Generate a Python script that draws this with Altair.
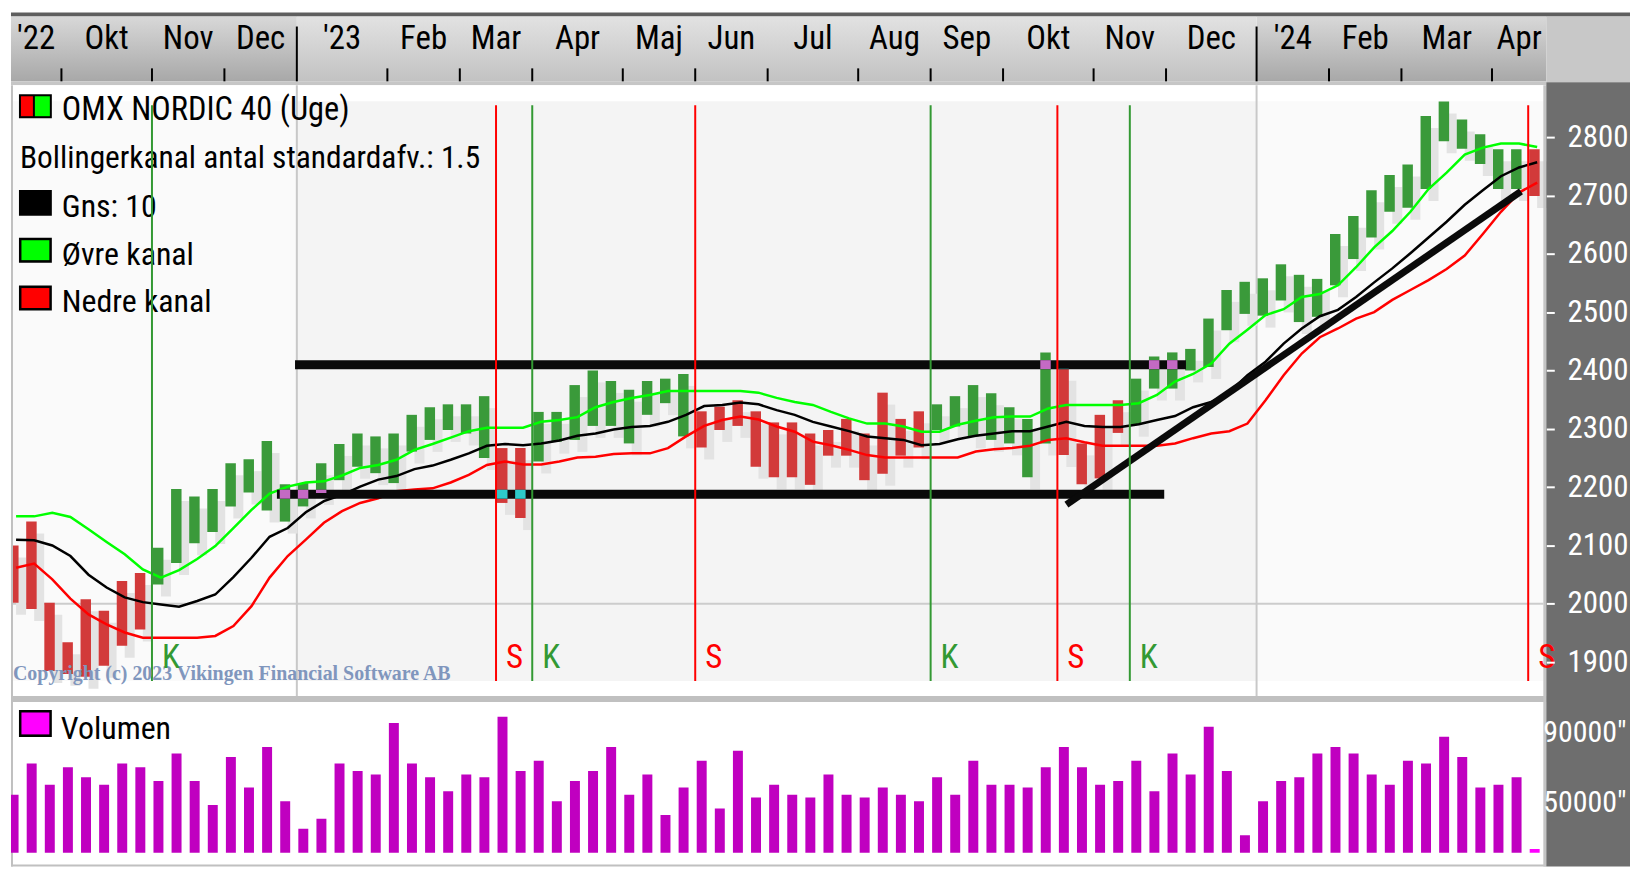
import altair as alt
import pandas as pd
from datetime import date, timedelta

FONT = "Roboto Condensed, Liberation Sans, sans-serif"
SERIF = "Liberation Serif, DejaVu Serif, serif"
FS = 33

# ---------------- data ----------------
first_week = date(2022, 9, 11)
weeks = [(first_week + timedelta(days=7 * i)).isoformat() for i in range(85)]

high = [2100, 2141, 2002, 1934, 2008, 1988, 2039, 2053, 2096, 2197,
        2184, 2197, 2241, 2248, 2279, 2205, 2207, 2241, 2274, 2292,
        2287, 2292, 2324, 2337, 2342, 2342, 2356, 2267, 2267, 2329,
        2329, 2375, 2400, 2382, 2367, 2382, 2386, 2394, 2330, 2338,
        2349, 2330, 2311, 2311, 2292, 2298, 2317, 2292, 2362, 2317,
        2330, 2342, 2356, 2375, 2361, 2337, 2317, 2431, 2403, 2275,
        2324, 2349, 2386, 2424, 2431, 2437, 2489, 2538, 2552, 2558,
        2582, 2564, 2557, 2634, 2665, 2709, 2735, 2753, 2836, 2861,
        2830, 2805, 2779, 2779, 2779]
low = [2002, 1991, 1885, 1880, 1875, 1894, 1928, 1956, 2033, 2070,
       2104, 2123, 2167, 2191, 2160, 2141, 2167, 2190, 2212, 2235,
       2224, 2207, 2261, 2281, 2298, 2292, 2250, 2173, 2147, 2244,
       2278, 2281, 2305, 2305, 2275, 2324, 2344, 2287, 2268, 2298,
       2305, 2235, 2217, 2217, 2204, 2254, 2254, 2212, 2223, 2254,
       2268, 2298, 2304, 2287, 2281, 2275, 2217, 2275, 2255, 2205,
       2215, 2293, 2307, 2369, 2369, 2400, 2406, 2469, 2497, 2494,
       2520, 2483, 2492, 2546, 2591, 2628, 2672, 2679, 2711, 2793,
       2780, 2754, 2711, 2711, 2699]
runs = [("-", 8), ("+", 19), ("-", 2), ("+", 9), ("-", 13), ("+", 7),
        ("-", 4), ("+", 22), ("-", 1)]
direction = [s for s, k in runs for _ in range(k)]

volume = [54200, 72100, 60000, 70000, 64200, 60000, 72100, 70000, 62100, 77900,
          62100, 48400, 75800, 58400, 81600, 50500, 34700, 40500, 72100, 67900,
          65800, 95300, 72100, 64200, 56300, 65800, 64200, 98900, 67900, 73700,
          50500, 62100, 67900, 81600, 54200, 65800, 42600, 58400, 73700, 46300,
          79500, 52600, 60000, 54200, 52600, 65800, 54200, 52600, 58400, 54200,
          50500, 64200, 54200, 73700, 60000, 60000, 58400, 70000, 81600, 70000,
          60000, 62100, 73700, 56300, 77900, 65800, 93200, 67900, 31100, 50500,
          62100, 64200, 77900, 81600, 77900, 65800, 60000, 73700, 72100, 87400,
          75800, 58400, 60000, 64200, 23200]

upper = [2150, 2150, 2156, 2149, 2128, 2106, 2085, 2059, 2045, 2058,
         2077, 2099, 2130, 2161, 2189, 2201, 2208, 2210, 2220, 2233,
         2238, 2247, 2264, 2274, 2285, 2296, 2302, 2302, 2302, 2312,
         2315, 2320, 2337, 2346, 2353, 2358, 2365, 2365, 2365, 2365,
         2365, 2362, 2353, 2346, 2341, 2329, 2318, 2309, 2309, 2304,
         2295, 2295, 2307, 2314, 2320, 2321, 2321, 2335, 2341, 2341,
         2341, 2341, 2344, 2358, 2381, 2394, 2412, 2446, 2470, 2495,
         2505, 2526, 2531, 2546, 2577, 2611, 2639, 2672, 2711, 2739,
         2770, 2782, 2789, 2789, 2783]
mean = [2110, 2109, 2100, 2082, 2050, 2028, 2011, 2003, 1999, 1995,
        2005, 2016, 2046, 2079, 2115, 2130, 2157, 2176, 2187, 2201,
        2213, 2219, 2231, 2237, 2247, 2258, 2271, 2274, 2272, 2275,
        2280, 2288, 2292, 2299, 2303, 2305, 2312, 2324, 2339, 2341,
        2345, 2342, 2332, 2324, 2312, 2304, 2296, 2287, 2284, 2281,
        2272, 2274, 2282, 2288, 2292, 2296, 2296, 2304, 2312, 2305,
        2303, 2303, 2308, 2315, 2322, 2337, 2346, 2363, 2392, 2415,
        2446, 2472, 2493, 2504, 2526, 2551, 2575, 2601, 2628, 2655,
        2684, 2709, 2733, 2748, 2757]
lower = [2062, 2069, 2042, 2009, 1982, 1965, 1951, 1942, 1942, 1942,
         1942, 1945, 1962, 1996, 2045, 2082, 2110, 2139, 2159, 2173,
         2181, 2193, 2196, 2198, 2208, 2221, 2238, 2244, 2239, 2239,
         2244, 2251, 2252, 2257, 2258, 2258, 2267, 2287, 2305, 2315,
         2321, 2316, 2304, 2295, 2278, 2272, 2264, 2255, 2251, 2251,
         2251, 2251, 2251, 2261, 2265, 2267, 2271, 2281, 2284, 2277,
         2271, 2271, 2271, 2271, 2275, 2284, 2292, 2296, 2309, 2349,
         2392, 2429, 2457, 2472, 2489, 2500, 2521, 2538, 2555, 2574,
         2597, 2634, 2672, 2705, 2722]

signal_week = [8, 27, 29, 38, 51, 58, 62, 84]
signal_kind = ["K", "S", "K", "S", "K", "S", "K", "S"]

level_price = [2410, 2188]
level_from = [15.9, 14.9]
level_to = [65.1, 63.9]
trend_week = [58.5, 83.6]
trend_price = [2170, 2707]

month_abbr = {2: "Feb", 3: "Mar", 4: "Apr", 5: "Maj", 6: "Jun", 7: "Jul",
              8: "Aug", 9: "Sep", 10: "Okt", 11: "Nov", 12: "Dec"}
price_ticks = [1900, 2000, 2100, 2200, 2300, 2400, 2500, 2600, 2700, 2800]
volume_ticks = [50000, 90000]
legend_text = ["OMX NORDIC 40 (Uge)", "Bollingerkanal antal standardafv.: 1.5",
               "Gns: 10", "\u00d8vre kanal", "Nedre kanal"]
copyright_text = "Copyright (c) 2023 Vikingen Financial Software AB"

# ---------------- tables ----------------
X_LO = 0.2145
X_HI = 85
df = pd.DataFrame({"week": weeks, "x": list(range(len(weeks))), "high": high,
                   "low": low, "dir": direction, "vol": volume,
                   "upper": upper, "mean": mean, "lower": lower})

dts = [date.fromisoformat(w) for w in weeks]
starts = [i for i in range(1, len(dts)) if dts[i].month != dts[i - 1].month]
bounds = [X_LO] + starts + [X_HI]
seg_first = [0] + starts
labels = []
for k, s in enumerate(seg_first):
    m = dts[s].month
    if k == 0 or m == 1:
        labels.append("'" + str(dts[s].year)[2:])
    else:
        labels.append(month_abbr[m])
months_df = pd.DataFrame({"x": [(bounds[k] + bounds[k + 1]) / 2 for k in range(len(labels))],
                          "label": labels})
ticks_df = pd.DataFrame({"x": starts, "year": [dts[s].month == 1 for s in starts]})
year_starts = [s for s in starts if dts[s].month == 1]
ybounds = [X_LO] + year_starts + [X_HI]
years_df = pd.DataFrame({"x0": ybounds[:-1], "x1": ybounds[1:],
                         "year": [dts[0].year] + [dts[s].year for s in year_starts]})
years_df["shade"] = ["light" if y == 2023 else "dark" for y in years_df["year"]]
levels_df = pd.DataFrame({"x0": level_from, "x1": level_to, "p": level_price})
trend_df = pd.DataFrame({"x": trend_week, "p": trend_price})
sig_df = pd.DataFrame({"x": signal_week, "kind": signal_kind})

# where a bar runs under a drawn (inverting) level line, the line shows the inverse colour
PX_PER_POINT = 0.5856
half_band = 4.5 / PX_PER_POINT
xor_rows = []
for p, a, b in zip(level_price, level_from, level_to):
    for i in range(len(weeks)):
        if a <= i + 0.06 and i + 0.63 <= b:
            lo = max(low[i], p - half_band)
            hi = min(high[i], p + half_band)
            if lo < hi:
                xor_rows.append({"x": i, "lo": lo, "hi": hi, "dir": direction[i]})
xor_df = pd.DataFrame(xor_rows)

# ---------------- scales ----------------
xs = alt.Scale(domain=[X_LO, X_HI], range=[0, 1541], nice=False, zero=False)
yp = alt.Scale(domain=[1800, 2900], range=[710.6, 66.44], nice=False, zero=False)
yv = alt.Scale(domain=[21000, 100000], range=[843.3, 704.9], nice=False, zero=False)


def X(f):
    return alt.X(f, type="quantitative", scale=xs, axis=None)


def YP(f, axis=None):
    return alt.Y(f, type="quantitative", scale=yp, axis=axis)


one = alt.Data(values=[{}])


def box(x1, x2, y1, y2, color):
    return alt.Chart(one).mark_rect(color=color).encode(
        x=alt.value(x1), x2=alt.value(x2), y=alt.value(y1), y2=alt.value(y2))


def label(txt, x, y, size=FS, color="black", font=FONT, align="left", weight="normal"):
    return alt.Chart(one).mark_text(text=txt, font=font, fontSize=size, color=color,
                                    align=align, baseline="alphabetic",
                                    fontWeight=weight).encode(
        x=alt.value(x), y=alt.value(y))


grad_dark = alt.LinearGradient(gradient="linear", x1=0, x2=0, y1=0, y2=1,
                               stops=[alt.GradientStop(color="#d8d8d8", offset=0),
                                      alt.GradientStop(color="#a8a8a8", offset=1)])
grad_light = alt.LinearGradient(gradient="linear", x1=0, x2=0, y1=0, y2=1,
                                stops=[alt.GradientStop(color="#e2e2e2", offset=0),
                                       alt.GradientStop(color="#c2c2c2", offset=1)])

layers = []
# header
layers.append(box(0, 1625, 0, 4, "#5e5e5e"))
layers.append(alt.Chart(years_df).transform_filter(alt.datum.shade == "dark")
              .mark_rect(color=grad_dark).encode(x=X("x0"), x2="x1", y=alt.value(4), y2=alt.value(69)))
layers.append(alt.Chart(years_df).transform_filter(alt.datum.shade == "light")
              .mark_rect(color=grad_light).encode(x=X("x0"), x2="x1", y=alt.value(4), y2=alt.value(69)))
layers.append(box(0, 1541, 69, 73, "#c6c6c6"))
layers.append(box(1541, 1625, 4, 70, "#c8c8c8"))
layers.append(alt.Chart(ticks_df).transform_filter("!datum.year").mark_rule(color="black", strokeWidth=2)
              .encode(x=X("x"), y=alt.value(56), y2=alt.value(69)))
layers.append(alt.Chart(ticks_df).transform_filter("datum.year").mark_rule(color="black", strokeWidth=2)
              .encode(x=X("x"), y=alt.value(14), y2=alt.value(69)))
layers.append(alt.Chart(months_df).mark_text(font=FONT, fontSize=FS, color="black",
                                              baseline="alphabetic", align="center")
              .encode(x=X("x"), y=alt.value(37), text="label:N"))

# price panel background
layers.append(box(0, 1541, 73, 686, "#ffffff"))
layers.append(alt.Chart(years_df).mark_rect().encode(
    x=X("x0"), x2="x1", y=alt.value(89), y2=alt.value(671),
    color=alt.condition(alt.datum.shade == "light", alt.value("#f4f4f4"), alt.value("#fafafa"))))
layers.append(alt.Chart(one).mark_rule(color="#cccccc", strokeWidth=2).encode(
    y=alt.datum(2000, type="quantitative", scale=yp, axis=None), x=alt.value(0), x2=alt.value(1538)))
layers.append(alt.Chart(pd.DataFrame({"x": year_starts})).mark_rule(color="#c8c8c8", strokeWidth=2)
              .encode(x=X("x"), y=alt.value(73), y2=alt.value(686)))

# legend
layers.append(box(8, 41, 82, 106, "#000000"))
layers.append(box(10, 22, 84, 104, "#ff0000"))
layers.append(box(24, 39, 84, 104, "#00ff00"))
layers.append(box(8, 41, 178, 204, "#000000"))
layers.append(box(8, 41, 226, 251, "#000000"))
layers.append(box(10.5, 38.5, 228.5, 248.5, "#00ff00"))
layers.append(box(8, 41, 274, 299, "#000000"))
layers.append(box(10.5, 38.5, 276.5, 296.5, "#ff0000"))
layers.append(label(legend_text[0], 51, 108, size=32.5))
layers.append(label(legend_text[1], 9, 156, size=31.5))
layers.append(label(legend_text[2], 51, 205, size=32))
layers.append(label(legend_text[3], 51, 253, size=32))
layers.append(label(legend_text[4], 51, 301, size=32))

# bars
layers.append(alt.Chart(df).mark_rect(color="#e3e3e3", xOffset=9, x2Offset=19, yOffset=12,
                                      y2Offset=12, clip=True)
              .encode(x=X("x"), x2="x", y=YP("low"), y2="high"))
layers.append(alt.Chart(df).mark_rect(xOffset=1, x2Offset=11.5, clip=True).encode(
    x=X("x"), x2="x",
    y=YP("low", axis=alt.Axis(orient="right", offset=-84, values=price_ticks, format="d",
                              tickColor="white", tickSize=8, tickWidth=2, labelColor="white",
                              labelFont=FONT, labelFontSize=31, labelAlign="right",
                              labelPadding=74, labelBaseline="middle", domain=False,
                              grid=False, zindex=2, title=None, labelOverlap=False,
                              labelFlush=False)),
    y2="high",
    color=alt.Color("dir:N", scale=alt.Scale(domain=["+", "-"], range=["#3a9a3a", "#d23a3a"]),
                    legend=None)))

# bollinger lines
for col, c in [("upper", "#00ff00"), ("lower", "#ff0000"), ("mean", "#000000")]:
    layers.append(alt.Chart(df).mark_line(color=c, strokeWidth=2.5, xOffset=9)
                  .encode(x=X("x"), y=YP(col)))

# drawn lines
layers.append(alt.Chart(levels_df).mark_rule(color="#0a0a0a", strokeWidth=9)
              .encode(x=X("x0"), x2="x1", y=YP("p")))
layers.append(alt.Chart(xor_df).mark_rect(xOffset=1, x2Offset=11.5).encode(
    x=X("x"), x2="x", y=YP("lo"), y2="hi",
    color=alt.Color("dir:N", scale=alt.Scale(domain=["+", "-"], range=["#c46ac4", "#2ecaca"]),
                    legend=None)))
layers.append(alt.Chart(trend_df).mark_line(color="#0a0a0a", strokeWidth=7)
              .encode(x=X("x"), y=YP("p")))

sig_color = alt.Color("kind:N", scale=alt.Scale(domain=["K", "S"], range=["#339933", "#ff0000"]),
                      legend=None)
layers.append(alt.Chart(sig_df).mark_rule(strokeWidth=2).encode(
    x=X("x"), y=alt.value(93), y2=alt.value(671), color=sig_color))

layers.append(label(copyright_text, 2, 670, size=20, color="#8096bd", font=SERIF, weight="bold"))

# separator + volume panel
layers.append(box(0, 1541, 686, 692, "#c0c0c0"))
layers.append(box(0, 1541, 855, 857, "#c0c0c0"))
layers.append(box(0, 2, 73, 857, "#c0c0c0"))
layers.append(alt.Chart(df).mark_rect(xOffset=1.5, x2Offset=11.5, clip=True).encode(
    x=X("x"), x2="x",
    y=alt.Y("vol:Q", scale=yv,
            axis=alt.Axis(orient="right", offset=-84, values=volume_ticks, tickOpacity=0,
                          tickSize=8, labelColor="white", labelFont=FONT, labelFontSize=30,
                          labelAlign="right", labelPadding=72, labelBaseline="middle",
                          domain=False, grid=False, zindex=2, title=None,
                          labelExpr="datum.value + '\"'", labelOverlap=False, labelFlush=False)),
    y2=alt.datum(21000),
    color=alt.condition("datum.x == 84", alt.value("#ff00ff"), alt.value("#c000c0"))))
layers.append(box(8, 41, 700, 727, "#000000"))
layers.append(box(10.5, 38.5, 702.5, 724.5, "#ff00ff"))
layers.append(label("Volumen", 50, 729, size=32))

# right axis panel
layers.append(box(1538, 1541, 73, 857, "#c4c4c4"))
layers.append(box(1541, 1625, 70, 857, "#6e6e6e"))

layers.append(alt.Chart(sig_df).mark_text(font=FONT, fontSize=FS, align="left",
                                          baseline="alphabetic", dx=10)
              .encode(x=X("x"), y=alt.value(658), text="kind:N", color=sig_color))

chart = alt.layer(*layers).resolve_scale(y="independent", color="independent").properties(
    width=1625, height=857,
    padding={"left": 3, "top": 3, "right": 0, "bottom": 0},
    autosize=alt.AutoSizeParams(type="none"),
    background="white",
).configure_view(strokeWidth=0)

chart.save("out.html", embed_options={"renderer": "svg", "actions": False})
